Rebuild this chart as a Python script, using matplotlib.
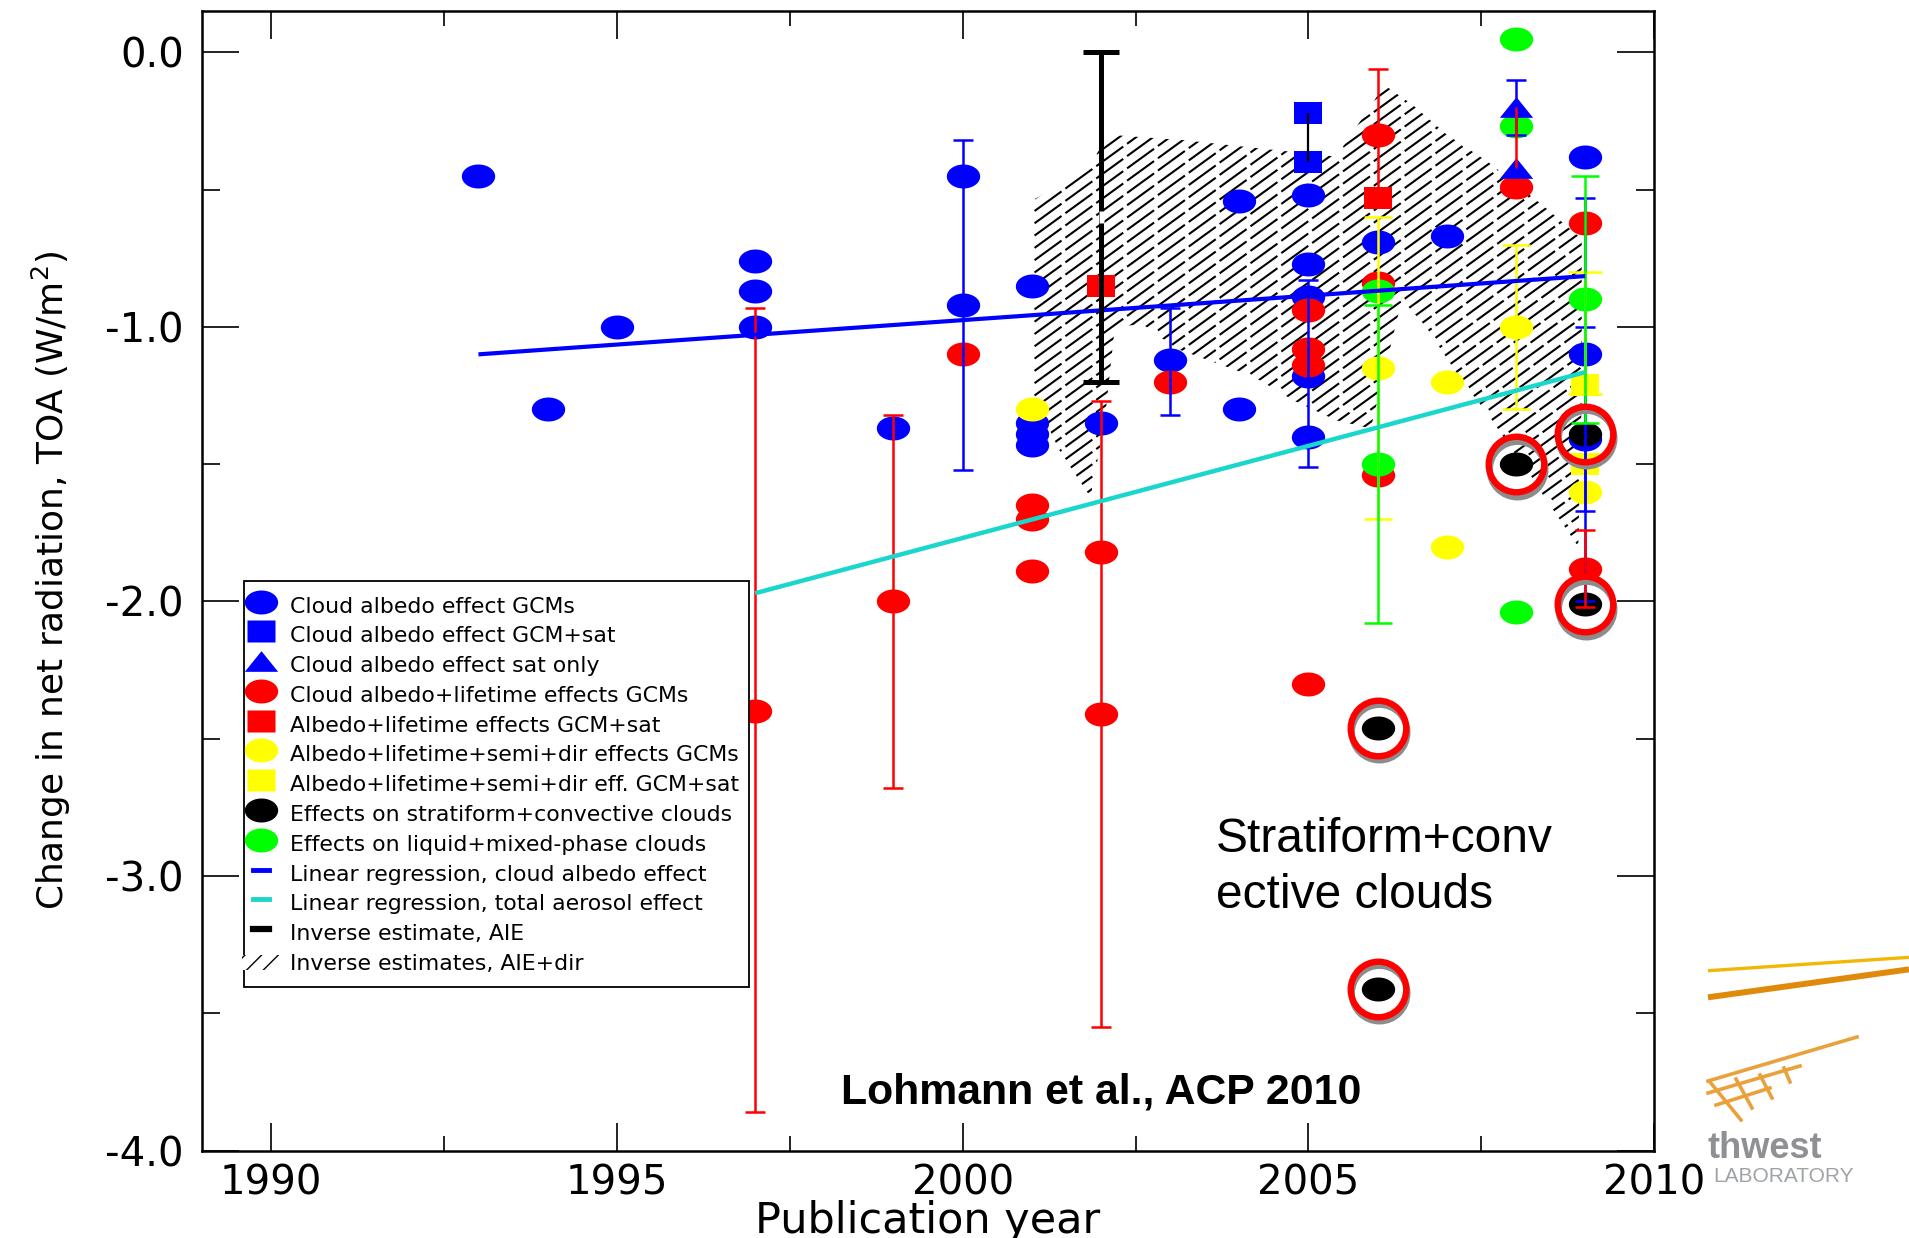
import numpy as np
import matplotlib
matplotlib.use("Agg")
import matplotlib.pyplot as plt
import matplotlib.transforms as mtransforms
from matplotlib.path import Path
from matplotlib.patches import Polygon, Patch, Rectangle
from matplotlib.lines import Line2D
from matplotlib.collections import LineCollection
from matplotlib.legend_handler import HandlerPatch
from matplotlib.ticker import FixedLocator, MultipleLocator, FormatStrFormatter

plt.rcParams["font.family"] = ["DejaVu Sans"]
plt.rcParams["axes.unicode_minus"] = False

# ---------------------------------------------------------------- data
# Cloud albedo effect, GCMs
ca_gcm_year = [1993, 1994, 1995, 1997, 1997, 1997, 1999, 2000, 2000, 2001, 2001, 2001, 2001,
               2002, 2003, 2004, 2004, 2005, 2005, 2005, 2005, 2005, 2006, 2007, 2009, 2009, 2009]
ca_gcm_val = [-0.45, -1.30, -1.00, -0.76, -0.87, -1.00, -1.37, -0.45, -0.92, -0.85, -1.35, -1.39, -1.43,
              -1.35, -1.12, -0.54, -1.30, -0.52, -0.77, -0.89, -1.18, -1.40, -0.69, -0.67, -0.38, -1.10, -1.41]
ca_gcm_err_year = [2000, 2003, 2005, 2009, 2009]
ca_gcm_err_mid = [-0.92, -1.12, -1.18, -1.10, -1.41]
ca_gcm_err_low = [-1.52, -1.32, -1.51, -1.67, -2.00]
ca_gcm_err_high = [-0.32, -0.93, -0.83, -0.53, -1.00]

# Cloud albedo effect, GCM+sat
ca_sat_year = [2005, 2005]
ca_sat_val = [-0.22, -0.40]

# Cloud albedo effect, satellite only
ca_satonly_year = [2008, 2008]
ca_satonly_val = [-0.20, -0.42]
ca_satonly_err_year = [2008]
ca_satonly_err_mid = [-0.20]
ca_satonly_err_low = [-0.30]
ca_satonly_err_high = [-0.10]

# Cloud albedo + lifetime effects, GCMs
al_gcm_year = [1997, 1999, 2000, 2001, 2001, 2001, 2002, 2002, 2003, 2005, 2005, 2005, 2005,
               2006, 2006, 2006, 2008, 2009, 2009]
al_gcm_val = [-2.40, -2.00, -1.10, -1.65, -1.70, -1.89, -1.82, -2.41, -1.20, -0.94, -1.08, -1.14, -2.30,
              -0.30, -0.84, -1.54, -0.49, -0.62, -1.88]
al_gcm_err_year = [1997, 1999, 2002, 2006, 2009]
al_gcm_err_mid = [-2.40, -2.00, -2.41, -0.30, -1.88]
al_gcm_err_low = [-3.86, -2.68, -3.55, -0.53, -2.02]
al_gcm_err_high = [-0.93, -1.32, -1.27, -0.06, -1.74]
al_gcm_range_year = [2008]
al_gcm_range_low = [-0.42]
al_gcm_range_high = [-0.20]

# Albedo + lifetime effects, GCM+sat
al_sat_year = [2002, 2006]
al_sat_val = [-0.85, -0.53]

# Albedo + lifetime + semi-direct effects, GCMs
sd_gcm_year = [2001, 2006, 2007, 2007, 2008, 2009]
sd_gcm_val = [-1.30, -1.15, -1.20, -1.80, -1.00, -1.60]
sd_gcm_err_year = [2006, 2008]
sd_gcm_err_mid = [-1.15, -1.00]
sd_gcm_err_low = [-1.70, -1.30]
sd_gcm_err_high = [-0.60, -0.70]

# Albedo + lifetime + semi-direct effects, GCM+sat
sd_sat_year = [2009, 2009]
sd_sat_val = [-1.21, -1.50]
sd_sat_err_year = [2009]
sd_sat_err_mid = [-1.21]
sd_sat_err_low = [-1.245]
sd_sat_err_high = [-0.80]

# Effects on stratiform + convective clouds
sc_year = [2006, 2006, 2008, 2009, 2009]
sc_val = [-2.46, -3.41, -1.50, -1.39, -2.01]

# Effects on liquid + mixed-phase clouds
lm_year = [2006, 2006, 2008, 2008, 2008, 2009]
lm_val = [-0.87, -1.50, 0.05, -0.27, -2.04, -0.90]
lm_err_year = [2006, 2009]
lm_err_mid = [-1.50, -0.90]
lm_err_low = [-2.08, -1.35]
lm_err_high = [-0.92, -0.45]

# Inverse estimate, AIE
inv_year = [2002]
inv_mid = [-0.60]
inv_low = [-1.20]
inv_high = [0.00]

# Linear regressions
reg_ca_year = [1993, 2009]
reg_ca_val = [-1.10, -0.815]
reg_tot_year = [1997, 2009]
reg_tot_val = [-1.97, -1.165]

# Inverse estimates, AIE+dir (outline of the hatched range)
inv_dir_year = [2001.0, 2001.8, 2002.1, 2003.2, 2004.3, 2005.4, 2006.1, 2006.5, 2007.0, 2007.6,
                2008.4, 2008.95, 2008.95, 2008.9, 2007.6, 2007.2, 2006.7, 2006.35, 2005.9, 2005.4,
                2004.8, 2004.2, 2003.1, 2002.6, 2002.2, 2002.05, 2001.85, 2001.4, 2001.0]
inv_dir_val = [-0.54, -0.43, -0.30, -0.32, -0.35, -0.38, -0.12, -0.19, -0.30, -0.40,
               -0.56, -0.68, -1.25, -1.80, -1.32, -1.19, -1.00, -0.90, -1.37, -1.34,
               -1.27, -1.18, -1.08, -0.99, -1.00, -1.35, -1.62, -1.45, -1.24]

xtick_years = [1990, 1995, 2000, 2005, 2010]
ytick_vals = [0.0, -1.0, -2.0, -3.0, -4.0]

legend_labels = [
    "Cloud albedo effect GCMs",
    "Cloud albedo effect GCM+sat",
    "Cloud albedo effect sat only",
    "Cloud albedo+lifetime effects GCMs",
    "Albedo+lifetime effects GCM+sat",
    "Albedo+lifetime+semi+dir effects GCMs",
    "Albedo+lifetime+semi+dir eff. GCM+sat",
    "Effects on stratiform+convective clouds",
    "Effects on liquid+mixed-phase clouds",
    "Linear regression, cloud albedo effect",
    "Linear regression, total aerosol effect",
    "Inverse estimate, AIE",
    "Inverse estimates, AIE+dir",
]

# ---------------------------------------------------------------- styles
BLUE, RED, YELLOW, GREEN, BLACK = "#0000FF", "#FF0000", "#FFFF00", "#00FF00", "#000000"
CYAN = "#1AD6CB"


def ellipse_path(aspect):
    t = np.linspace(0, 2 * np.pi, 73)
    v = np.column_stack([np.cos(t), aspect * np.sin(t)])
    return Path(v, closed=True)


def rect_path(aspect):
    v = [(-1, -aspect), (1, -aspect), (1, aspect), (-1, aspect), (-1, -aspect)]
    return Path(v, closed=True)


def tri_path(aspect):
    v = [(-1, -aspect), (1, -aspect), (0, aspect), (-1, -aspect)]
    return Path(v, closed=True)


ELL = ellipse_path(0.72)
SQR = rect_path(0.78)
TRI = tri_path(0.62)
MS_ELL, MS_SQR, MS_TRI = 24, 19.5, 24

fig = plt.figure(figsize=(19.09, 12.38), dpi=100)
ax = fig.add_axes([0.1057, 0.0706, 0.7609, 0.9204])
ax.set_xlim(1989, 2010)
ax.set_ylim(-4.0, 0.15)

# hatched range of inverse estimates
region = Polygon(np.column_stack([inv_dir_year, inv_dir_val]), closed=True,
                 facecolor="none", edgecolor="none")
ax.add_patch(region)
fig.canvas.draw()
bb = ax.get_window_extent()
W, H = bb.width, bb.height
k = np.tan(np.deg2rad(36)) * W / H
step = 12.3 / H
segs = [[(0, c), (1, c + k)] for c in np.arange(-k - step, 1 + step, step)]
lc = LineCollection(segs, transform=ax.transAxes, colors="black", linewidths=1.5,
                    linestyles=[(0, (16, 2.3))], zorder=1)
lc.set_clip_path(region)
ax.add_collection(lc, autolim=False)


def pts(x, y, marker, ms, color, z):
    ax.plot(x, y, ls="none", marker=marker, ms=ms, mfc=color, mec="none", mew=0, zorder=z)


def ebar(x, mid, low, high, color, lw=1.8, cap=7.5, z=5):
    mid = np.asarray(mid)
    yerr = [mid - np.asarray(low), np.asarray(high) - mid]
    ax.errorbar(x, mid, yerr=yerr, fmt="none", ecolor=color, elinewidth=lw,
                capsize=cap, capthick=lw, zorder=z)


pts(ca_gcm_year, ca_gcm_val, ELL, MS_ELL, BLUE, 3.0)
pts(al_gcm_year, al_gcm_val, ELL, MS_ELL, RED, 3.1)
pts(sd_gcm_year, sd_gcm_val, ELL, MS_ELL, YELLOW, 3.2)
pts(lm_year, lm_val, ELL, MS_ELL, GREEN, 3.3)
pts(sc_year, sc_val, ELL, MS_ELL, BLACK, 3.4)
pts(ca_sat_year, ca_sat_val, SQR, MS_SQR, BLUE, 3.5)
pts(al_sat_year, al_sat_val, SQR, MS_SQR, RED, 3.5)
pts(sd_sat_year, sd_sat_val, SQR, MS_SQR, YELLOW, 3.5)
pts(ca_satonly_year, ca_satonly_val, TRI, MS_TRI, BLUE, 3.6)

ebar(ca_gcm_err_year, ca_gcm_err_mid, ca_gcm_err_low, ca_gcm_err_high, BLUE)
ebar(ca_satonly_err_year, ca_satonly_err_mid, ca_satonly_err_low, ca_satonly_err_high, BLUE)
ebar(al_gcm_err_year, al_gcm_err_mid, al_gcm_err_low, al_gcm_err_high, RED)
ax.vlines(al_gcm_range_year, al_gcm_range_low, al_gcm_range_high, color=RED, lw=1.8, zorder=5)
ebar(sd_gcm_err_year, sd_gcm_err_mid, sd_gcm_err_low, sd_gcm_err_high, YELLOW, cap=10)
ebar(sd_sat_err_year, sd_sat_err_mid, sd_sat_err_low, sd_sat_err_high, YELLOW, cap=12)
ebar(lm_err_year, lm_err_mid, lm_err_low, lm_err_high, GREEN, cap=10)
ax.vlines(ca_sat_year[:1], min(ca_sat_val), max(ca_sat_val), color=BLACK, lw=1.6, zorder=5)

# regression lines
ax.plot(reg_ca_year, reg_ca_val, color=BLUE, lw=3.0, solid_capstyle="butt", zorder=6)
ax.plot(reg_tot_year, reg_tot_val, color=CYAN, lw=3.2, solid_capstyle="butt", zorder=6)

# inverse estimate (AIE)
ebar(inv_year, inv_mid, inv_low, inv_high, BLACK, lw=3.6, cap=13, z=7)
gap = Path([(-0.2, -0.5), (0.2, -0.5), (0.2, 0.5), (-0.2, 0.5), (-0.2, -0.5)], closed=True)
ax.plot(inv_year, inv_mid, ls="none", marker=gap, ms=9, mfc="white", mec="none", zorder=7.5)

# highlight rings around the stratiform+convective results
shadow = mtransforms.offset_copy(ax.transData, fig=fig, x=1.0, y=-4.5, units="dots")
ax.plot(sc_year, sc_val, ls="none", marker="o", ms=40, mfc="none", mec="#8C8C8C",
        mew=4.6, transform=shadow, zorder=9)
ax.plot(sc_year, sc_val, ls="none", marker="o", ms=40, mfc="none", mec=RED, mew=4.6, zorder=10)

# axes, ticks, labels
for s in ax.spines.values():
    s.set_linewidth(1.8)
ax.xaxis.set_major_locator(FixedLocator(xtick_years))
ax.xaxis.set_minor_locator(MultipleLocator(2.5))
ax.yaxis.set_major_locator(FixedLocator(ytick_vals))
ax.yaxis.set_minor_locator(MultipleLocator(0.5))
ax.xaxis.set_major_formatter(FormatStrFormatter("%d"))
ax.yaxis.set_major_formatter(FormatStrFormatter("%.1f"))
ax.tick_params(which="both", direction="in", top=True, right=True, width=1.4, color="#222222")
ax.tick_params(axis="x", which="major", length=20, pad=9, labelsize=29)
ax.tick_params(axis="x", which="minor", length=10.5)
ax.tick_params(axis="y", which="major", length=26.5, pad=13, labelsize=29)
ax.tick_params(axis="y", which="minor", length=13)

ax.set_xlabel("Publication year", fontsize=31)
ax.xaxis.set_label_coords(0.5, -0.043)
ax.set_ylabel("Change in net radiation, TOA (W/m$^2$)", fontsize=25.8)
ax.yaxis.set_label_coords(-0.0886, 0.5)

ax.text(2003.66, -3.118, "Stratiform+conv\nective clouds", fontsize=34.5,
        family=["Liberation Sans"], ha="left", va="baseline", linespacing=1.32, zorder=8)
ax.text(2002.0, -3.83, "Lohmann et al., ACP 2010", fontsize=30.8, fontweight="bold",
        family=["Liberation Sans"], ha="center", va="baseline", zorder=8)


# legend
def hatch_handle(legend, orig_handle, xdescent, ydescent, width, height, fontsize):
    return Rectangle((-xdescent - 0.7 * width, -ydescent + 0.25 * height),
                     2.3 * width, 0.5 * height)


handles = [
    Line2D([], [], ls="none", marker=ELL, ms=MS_ELL, mfc=BLUE, mec="none"),
    Line2D([], [], ls="none", marker=SQR, ms=MS_SQR, mfc=BLUE, mec="none"),
    Line2D([], [], ls="none", marker=TRI, ms=MS_TRI, mfc=BLUE, mec="none"),
    Line2D([], [], ls="none", marker=ELL, ms=MS_ELL, mfc=RED, mec="none"),
    Line2D([], [], ls="none", marker=SQR, ms=MS_SQR, mfc=RED, mec="none"),
    Line2D([], [], ls="none", marker=ELL, ms=MS_ELL, mfc=YELLOW, mec="none"),
    Line2D([], [], ls="none", marker=SQR, ms=MS_SQR, mfc=YELLOW, mec="none"),
    Line2D([], [], ls="none", marker=ELL, ms=MS_ELL, mfc=BLACK, mec="none"),
    Line2D([], [], ls="none", marker=ELL, ms=MS_ELL, mfc=GREEN, mec="none"),
    Line2D([], [], color=BLUE, lw=3.5),
    Line2D([], [], color=CYAN, lw=3.5),
    Line2D([], [], color=BLACK, lw=4.5),
    Patch(facecolor="white", edgecolor="black", lw=0, hatch="//"),
]
leg = ax.legend(handles, legend_labels, loc="upper left", bbox_to_anchor=(0.1276, 0.5309),
                bbox_transform=fig.transFigure, fontsize=15.8, frameon=True, fancybox=False,
                edgecolor="black", framealpha=1, borderpad=0.45, handlelength=0.72,
                handleheight=1.71, handletextpad=0.95, labelspacing=0.0, borderaxespad=0,
                handler_map={Patch: HandlerPatch(patch_func=hatch_handle)})
leg.get_frame().set_linewidth(1.3)
leg.set_zorder(20)

# partial laboratory logo at the right margin
fig.add_artist(Line2D([0.8947, 1.0], [0.2159, 0.2267], transform=fig.transFigure,
                      color="#F2B705", lw=2.4, solid_capstyle="butt"))
fig.add_artist(Line2D([0.8947, 1.0], [0.1944, 0.2170], transform=fig.transFigure,
                      color="#E08A0B", lw=4.3, solid_capstyle="butt"))
net = [((1708, 1081), (1857, 1037)), ((1708, 1093), (1800, 1066)), ((1716, 1105), (1770, 1088)),
       ((1710, 1082), (1741, 1120)), ((1736, 1079), (1752, 1108)), ((1760, 1075), (1772, 1098)),
       ((1784, 1068), (1790, 1082))]
for (x0, y0), (x1, y1) in net:
    fig.add_artist(Line2D([x0 / 1909, x1 / 1909], [1 - y0 / 1238, 1 - y1 / 1238],
                          transform=fig.transFigure, color="#E9A23B", lw=2.6))
fig.text(0.8947, 0.0646, "thwest", fontsize=26, fontweight="bold", color="#8E9094",
         family=["Liberation Sans"], ha="left", va="baseline")
fig.text(0.8975, 0.0455, "LABORATORY", fontsize=15, color="#A0A3A6",
         family=["Liberation Sans"], ha="left", va="baseline")

fig.savefig("out.png", dpi=100, facecolor="white")
